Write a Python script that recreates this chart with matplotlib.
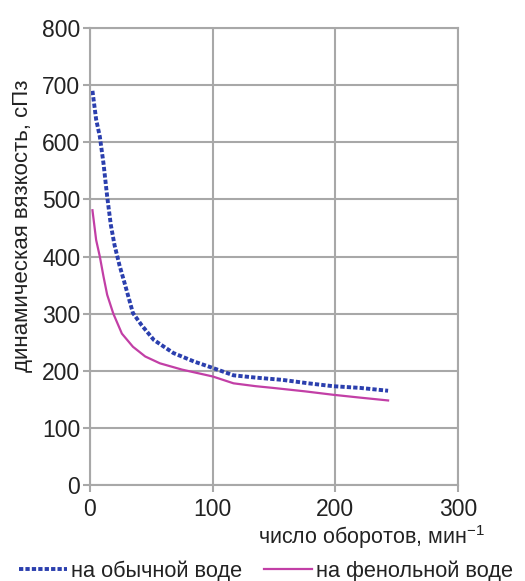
import matplotlib
matplotlib.use("Agg")
import matplotlib.pyplot as plt

# Data
rpm_water = [2, 5, 8, 11, 14, 17, 20, 24, 28, 35, 42, 52, 68, 85, 100, 117, 135, 157, 178, 198, 220, 243]
visc_water = [690, 640, 610, 563, 505, 455, 420, 385, 355, 301, 280, 254, 231, 216, 205, 192, 188, 184, 178, 173, 170, 165]
rpm_phenol = [2, 5, 8, 11, 14, 19, 26, 35, 45, 57, 75, 100, 117, 135, 149, 175, 198, 220, 243]
visc_phenol = [481, 429, 400, 365, 333, 300, 265, 242, 225, 213, 202, 190, 178, 173, 170, 164, 158, 153, 148]

x_ticks = [0, 100, 200, 300]
y_ticks = [0, 100, 200, 300, 400, 500, 600, 700, 800]
label_water = "на обычной воде"
label_phenol = "на фенольной воде"
xlabel = "число оборотов, мин$^{-1}$"
ylabel = "динамическая вязкость, сПз"

plt.rcParams['font.family'] = ['Liberation Sans', 'DejaVu Sans']
plt.rcParams['mathtext.fontset'] = 'custom'
plt.rcParams['mathtext.rm'] = 'Liberation Sans'

fig = plt.figure(figsize=(5.25, 5.81), dpi=100)
ax = fig.add_axes([90/525, 1-485/581, 368/525, 457/581])

grid_c = '#a8a8a8'
ax.set_xlim(0, 300)
ax.set_ylim(0, 800)
ax.set_xticks(x_ticks)
ax.set_yticks(y_ticks)
ax.grid(True, color=grid_c, linewidth=1.5)
ax.set_axisbelow(True)
for s in ax.spines.values():
    s.set_color(grid_c)
    s.set_linewidth(1.5)
ax.tick_params(axis='both', colors=grid_c, width=1.5, length=5, labelsize=16.5,
               labelcolor='#222222')
ax.tick_params(axis='y', pad=2)
ax.tick_params(axis='x', pad=4)

l1, = ax.plot(rpm_water, visc_water, color='#2b3fae', linewidth=2.8,
              linestyle=(0, (1.1, 0.55)), label=label_water)
l2, = ax.plot(rpm_phenol, visc_phenol, color='#c23fa6', linewidth=1.6,
              label=label_phenol)

fig.text(485/525, 1-537/581, xlabel, ha='right', va='center', fontsize=15.5, color='#222222')
fig.text(23/525, 1-226/581, ylabel, ha='center', va='center', rotation=90,
         fontsize=16, color='#222222')

fig.legend(handles=[l1, l2], loc='center', bbox_to_anchor=(266/525, 1-571/581), ncol=2,
           frameon=False, fontsize=15.7, handlelength=2.2, handletextpad=0.2,
           columnspacing=1.0, borderpad=0, labelcolor='#222222')

fig.savefig("out.png", dpi=100)
